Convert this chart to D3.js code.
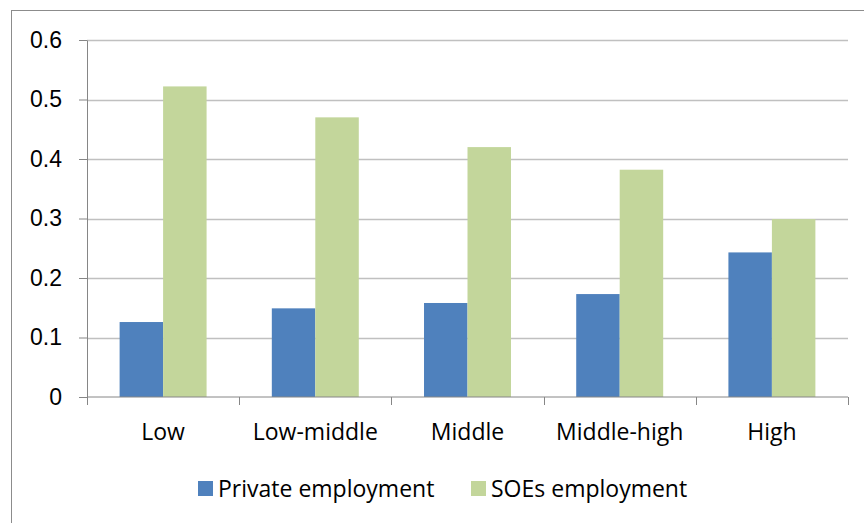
<!DOCTYPE html>
<html>
<head>
<meta charset="utf-8">
<script src="https://cdn.jsdelivr.net/npm/d3@7"></script>
<style>
  body { margin: 0; background: #fff; }
  svg { font-family: "Open Sans", Lato, sans-serif; }
</style>
</head>
<body>
<svg id="chart"></svg>
<script>
const categories = ['Low', 'Low-middle', 'Middle', 'Middle-high', 'High'];
const seriesNames = ['Private employment', 'SOEs employment'];
const privateValues = [0.126, 0.149, 0.158, 0.173, 0.243];
const soeValues = [0.522, 0.470, 0.420, 0.382, 0.299];
const yTicks = [0, 0.1, 0.2, 0.3, 0.4, 0.5, 0.6];

const colors = ['#4F81BD', '#C3D69B'];
const width = 864;
const height = 523;
const margin = { top: 40, right: 16, bottom: 126, left: 87 };
const fontSize = '23px';

const svg = d3.select('#chart').attr('width', width).attr('height', height);

// outer chart border
svg.append('rect')
  .attr('x', 11.5).attr('y', 10.5)
  .attr('width', width + 20).attr('height', height + 20)
  .attr('fill', 'none').attr('stroke', '#8c8c8c').attr('stroke-width', 1);

const x = d3.scaleBand()
  .domain(categories)
  .range([margin.left, width - margin.right]);

const y = d3.scaleLinear()
  .domain([0, 0.6])
  .range([height - margin.bottom, margin.top]);

// bars: gap width 150% like Excel
const barW = x.bandwidth() / 3.5;
const xs = d3.scaleBand().domain(seriesNames).range([0, barW * 2]);

// gridlines
svg.append('g')
  .selectAll('line')
  .data(yTicks.slice(1))
  .join('line')
  .attr('x1', margin.left).attr('x2', width - margin.right)
  .attr('y1', d => Math.round(y(d)) + 0.5).attr('y2', d => Math.round(y(d)) + 0.5)
  .attr('stroke', '#c0c0c0').attr('stroke-width', 1.5);

const data = [privateValues, soeValues];
data.forEach((vals, s) => {
  svg.append('g')
    .selectAll('rect')
    .data(vals)
    .join('rect')
    .attr('x', (d, i) => x(categories[i]) + (x.bandwidth() - barW * 2) / 2 + xs(seriesNames[s]))
    .attr('y', d => y(d))
    .attr('width', xs.bandwidth())
    .attr('height', d => y(0) - y(d))
    .attr('fill', colors[s]);
});

// y axis
const yAxis = svg.append('g')
  .attr('transform', `translate(${margin.left},0)`)
  .call(d3.axisLeft(y).tickValues(yTicks).tickFormat(d => d === 0 ? '0' : d3.format('.1f')(d)).tickSize(8).tickSizeOuter(0));
yAxis.selectAll('line').attr('stroke', '#868686');
yAxis.select('.domain').attr('stroke', '#868686');
yAxis.selectAll('text')
  .attr('x', -25)
  .style('font-size', fontSize)
  .attr('fill', '#000');

// x axis
const boundaries = categories.map(c => x(c)).concat([width - margin.right]);
const xAxisG = svg.append('g');
xAxisG.append('line')
  .attr('x1', margin.left).attr('x2', width - margin.right)
  .attr('y1', y(0)).attr('y2', y(0))
  .attr('stroke', '#868686');
xAxisG.selectAll('line.tick')
  .data(boundaries)
  .join('line')
  .attr('class', 'tick')
  .attr('x1', d => Math.round(d) + 0.5).attr('x2', d => Math.round(d) + 0.5)
  .attr('y1', y(0)).attr('y2', y(0) + 8)
  .attr('stroke', '#868686');
xAxisG.selectAll('text')
  .data(categories)
  .join('text')
  .attr('x', d => x(d) + x.bandwidth() / 2)
  .attr('y', y(0) + 43)
  .attr('text-anchor', 'middle')
  .style('font-size', fontSize)
  .text(d => d);

// legend
const legendItems = [
  { name: seriesNames[0], x: 198 },
  { name: seriesNames[1], x: 471 }
];
const legend = svg.append('g');
legendItems.forEach((item, i) => {
  legend.append('rect')
    .attr('x', item.x).attr('y', 481)
    .attr('width', 15).attr('height', 15)
    .attr('fill', colors[i]);
  legend.append('text')
    .attr('x', item.x + 20).attr('y', 497)
    .style('font-size', fontSize)
    .text(item.name);
});
</script>
</body>
</html>
